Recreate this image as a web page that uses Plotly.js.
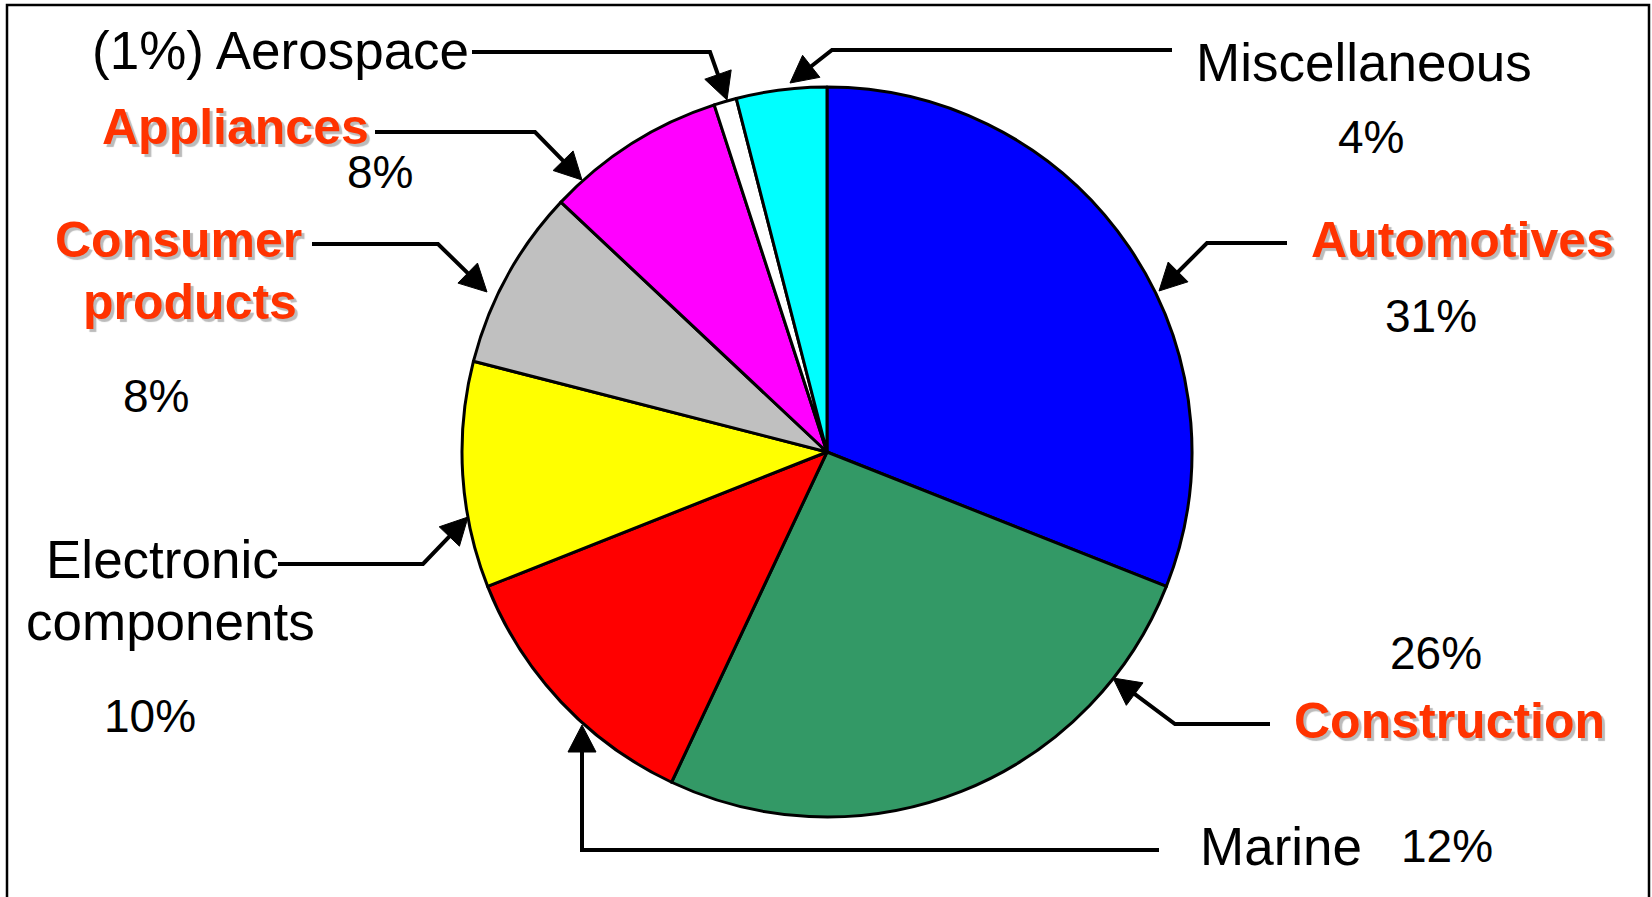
<!DOCTYPE html>
<html>
<head>
<meta charset="utf-8">
<script src="https://cdn.plot.ly/plotly-3.0.1.min.js"></script>
<style>html,body{margin:0;padding:0;background:#fff;}#chart{width:1652px;height:897px;}</style>
</head>
<body>
<div id="chart"></div>
<script>
// ---- data ----
const categories = ['Automotives', 'Construction', 'Marine', 'Electronic components', 'Consumer products', 'Appliances', 'Aerospace', 'Miscellaneous'];
const shares = [31, 26, 12, 10, 8, 8, 1, 4];
const sliceColors = ['#0000FF', '#339966', '#FF0000', '#FFFF00', '#C0C0C0', '#FF00FF', '#FFFFFF', '#00FFFF'];
const labelLines = [['Automotives'], ['Construction'], ['Marine'], ['Electronic', 'components'], ['Consumer', 'products'], ['Appliances'], ['Aerospace'], ['Miscellaneous']];
const highlighted = [true, true, false, false, true, true, false, false];

// ---- layout helpers ----
const W = 1652, H = 897;
const px = x => x / W;
const py = y => 1 - y / H;
const FONT = 'Liberation Sans, Arial, sans-serif';
const LSIZE = 53, HSIZE = 50, PSIZE = 46;
const RED = '#FF3300';
const pct = i => shares[i] + '%';

const annotations = [];
function txt(text, x, y, opts) {
  opts = opts || {};
  const hl = opts.hl;
  annotations.push({
    xref: 'paper', yref: 'paper', x: px(x), y: py(y),
    xanchor: opts.xa || 'center', yanchor: 'middle',
    text: text, showarrow: false,
    font: Object.assign({family: FONT, size: opts.size || (hl ? HSIZE : LSIZE), color: hl ? RED : '#000000'},
      hl ? {weight: 'bold', shadow: '3px 3px 1px #BBBBBB'} : {})
  });
}

// label placement (index into categories)
// Automotives
txt(labelLines[0][0], 1462, 240, {hl: highlighted[0]});
txt(pct(0), 1431, 316, {size: PSIZE});
// Construction
txt(pct(1), 1436, 653, {size: PSIZE});
txt(labelLines[1][0], 1449, 721, {hl: highlighted[1]});
// Marine
txt(labelLines[2][0], 1281, 846);
txt(pct(2), 1447, 846, {size: PSIZE});
// Electronic components
txt(labelLines[3][0], 162, 559);
txt(labelLines[3][1], 170, 621);
txt(pct(3), 150, 716, {size: PSIZE});
// Consumer products
txt(labelLines[4][0], 178, 240, {hl: highlighted[4]});
txt(labelLines[4][1], 190, 302, {hl: highlighted[4]});
txt(pct(4), 156, 396, {size: PSIZE});
// Appliances
txt(labelLines[5][0], 371, 127, {hl: highlighted[5], xa: 'right'});
txt(pct(5), 380, 172, {size: PSIZE});
// Aerospace
txt('(' + pct(6) + ') ' + labelLines[6][0], 471, 50, {xa: 'right'});
// Miscellaneous
txt(labelLines[7][0], 1364, 63);
txt(pct(7), 1371, 137, {size: PSIZE});

// leader lines with arrow heads (pixel coords of page)
const leaders = [
  [[1287, 243], [1207, 243], [1159, 291]],
  [[1270, 724], [1175, 724], [1113, 678]],
  [[1159, 850], [582, 850], [582, 725]],
  [[278, 564], [423, 564], [468, 517]],
  [[312, 244], [438, 244], [487, 292]],
  [[375, 132], [535, 132], [582, 180]],
  [[472, 52], [710, 52], [727, 100]],
  [[1172, 50], [832, 50], [790, 83]]
];
const shapes = [];
const HEADLEN = 27, HEADHW = 14;
leaders.forEach(pts => {
  const n = pts.length;
  const tip = pts[n - 1], prev = pts[n - 2];
  let dx = tip[0] - prev[0], dy = tip[1] - prev[1];
  const L = Math.hypot(dx, dy); dx /= L; dy /= L;
  const base = [tip[0] - dx * HEADLEN, tip[1] - dy * HEADLEN];
  const c1 = [base[0] - dy * HEADHW, base[1] + dx * HEADHW];
  const c2 = [base[0] + dy * HEADHW, base[1] - dx * HEADHW];
  const linePts = pts.slice(0, n - 1).concat([[tip[0] - dx * (HEADLEN - 4), tip[1] - dy * (HEADLEN - 4)]]);
  shapes.push({
    type: 'path', xref: 'paper', yref: 'paper',
    path: 'M' + linePts.map(p => px(p[0]) + ',' + py(p[1])).join(' L'),
    line: {color: '#000000', width: 4}, fillcolor: 'rgba(0,0,0,0)'
  });
  shapes.push({
    type: 'path', xref: 'paper', yref: 'paper',
    path: 'M' + [tip, c1, c2].map(p => px(p[0]) + ',' + py(p[1])).join(' L') + ' Z',
    line: {color: '#000000', width: 1}, fillcolor: '#000000'
  });
});
// frame
shapes.push({type: 'rect', xref: 'paper', yref: 'paper', x0: px(7), x1: px(1649), y0: py(905), y1: py(5),
  line: {color: '#000000', width: 2.5}, fillcolor: 'rgba(0,0,0,0)', layer: 'below'});

const trace = {
  type: 'pie',
  labels: categories,
  values: shares,
  sort: false,
  direction: 'clockwise',
  rotation: 0,
  textinfo: 'none',
  hoverinfo: 'none',
  showlegend: false,
  marker: {colors: sliceColors, line: {color: '#000000', width: 3}},
  domain: {x: [px(462), px(1192)], y: [py(817), py(87)]}
};

const layout = {
  width: W, height: H,
  margin: {l: 0, r: 0, t: 0, b: 0},
  paper_bgcolor: '#FFFFFF',
  showlegend: false,
  annotations: annotations,
  shapes: shapes
};

Plotly.newPlot('chart', [trace], layout, {displayModeBar: false, staticPlot: true});
</script>
</body>
</html>
